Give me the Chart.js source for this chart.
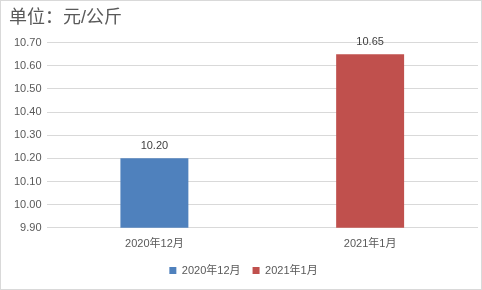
<!DOCTYPE html>
<html><head><meta charset="utf-8">
<script src="https://cdn.jsdelivr.net/npm/chart.js@4/dist/chart.umd.min.js"></script>
<style>
html,body{margin:0;padding:0;background:#fff;}
#wrap{position:relative;width:480px;height:288px;border:1px solid #d9d9d9;}
</style></head><body>
<div id="wrap"><canvas id="c" width="480" height="288"></canvas></div>
<script>
const categories = ['2020年12月', '2021年1月'];
const seriesNames = ['2020年12月', '2021年1月'];
const values = [10.20, 10.65];
const colors = ['#4f81bd', '#c0504d'];
const yTicks = [9.90, 10.00, 10.10, 10.20, 10.30, 10.40, 10.50, 10.60, 10.70];
const titleText = '单位：元/公斤';

const FONT = "'Liberation Sans', 'Noto Sans CJK SC', sans-serif";

const datasets = seriesNames.map((name, i) => ({
  label: name,
  data: categories.map((c, j) => j === i ? values[i] : null),
  backgroundColor: colors[i],
  borderWidth: 0,
  categoryPercentage: 1,
  barPercentage: 0.315,
  skipNull: true
}));

const labelPlugin = {
  id: 'valueLabels',
  afterDatasetsDraw(chart) {
    const ctx = chart.ctx;
    ctx.save();
    ctx.font = "11px " + FONT;
    ctx.fillStyle = '#404040';
    ctx.textAlign = 'center';
    ctx.textBaseline = 'bottom';
    chart.data.datasets.forEach((ds, i) => {
      const meta = chart.getDatasetMeta(i);
      meta.data.forEach((el, j) => {
        const v = ds.data[j];
        if (v == null) return;
        ctx.fillText(v.toFixed(2), el.x, el.y - 7);
      });
    });
    ctx.restore();
  }
};

new Chart(document.getElementById('c'), {
  type: 'bar',
  data: { labels: categories, datasets },
  plugins: [labelPlugin],
  options: {
    responsive: false,
    animation: false,
    layout: { padding: { left: 8, right: 3, top: 0, bottom: 3 } },
    plugins: {
      title: {
        display: true, text: titleText, align: 'start',
        color: '#595959', font: { family: FONT, size: 18, weight: 'normal' },
        padding: { top: 6, bottom: 14 }
      },
      legend: {
        position: 'bottom',
        labels: { boxWidth: 7, boxHeight: 7, color: '#595959', font: { family: FONT, size: 11 }, padding: 12 }
      },
      tooltip: { enabled: false }
    },
    scales: {
      x: {
        grid: { display: false },
        border: { display: false },
        ticks: { color: '#595959', font: { family: FONT, size: 11 }, padding: 2 }
      },
      y: {
        min: 9.9, max: 10.7,
        afterBuildTicks(axis) { axis.ticks = yTicks.map(v => ({ value: v })); },
        grid: { color: '#d9d9d9', drawTicks: false },
        border: { display: false },
        ticks: { color: '#595959', font: { family: FONT, size: 11 }, padding: 5, callback: v => Number(v).toFixed(2) }
      }
    }
  }
});
</script></body></html>
